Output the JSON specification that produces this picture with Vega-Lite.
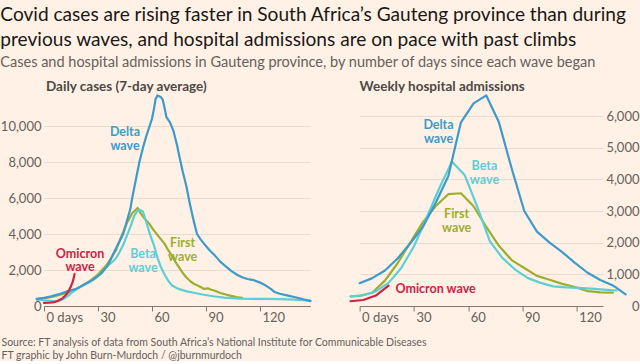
{
  "$schema": "https://vega.github.io/schema/vega-lite/v6.json",
  "background": "#fff1e5",
  "padding": {"left": 0, "top": 5, "right": 2, "bottom": 0},
  "autosize": {"type": "pad"},
  "bounds": "flush",
  "spacing": 48.6,
  "config": {
    "view": {"stroke": null},
    "font": "Lato",
    "numberFormat": ",.0f",
    "mark": {"clip": false},
    "axis": {"labelFont": "Lato", "labelColor": "#66605c", "labelFontSize": 13, "titleFont": "Lato", "gridColor": "#eadbce", "domainColor": "#807973", "tickColor": "#807973"}
  },
  "title": {
    "text": ["Covid cases are rising faster in South Africa’s Gauteng province than during", "previous waves, and hospital admissions are on pace with past climbs"],
    "subtitle": "Cases and hospital admissions in Gauteng province, by number of days since each wave began",
    "anchor": "start",
    "frame": "bounds",
    "font": "Lato",
    "fontSize": 19.1,
    "fontWeight": "normal",
    "lineHeight": 25,
    "color": "#1a1817",
    "subtitleFont": "Lato",
    "subtitleFontSize": 14.5,
    "subtitleColor": "#66605c",
    "subtitlePadding": 6,
    "offset": 10
  },
  "datasets": {
    "cases": [
      {"wave": "First wave", "day": -4, "v": 380}, {"wave": "First wave", "day": 0, "v": 420}, {"wave": "First wave", "day": 5, "v": 520}, {"wave": "First wave", "day": 10, "v": 650}, {"wave": "First wave", "day": 15, "v": 800}, {"wave": "First wave", "day": 20, "v": 1050}, {"wave": "First wave", "day": 25, "v": 1350}, {"wave": "First wave", "day": 30, "v": 1750}, {"wave": "First wave", "day": 35, "v": 2300}, {"wave": "First wave", "day": 40, "v": 3100}, {"wave": "First wave", "day": 43, "v": 3870}, {"wave": "First wave", "day": 46, "v": 4600}, {"wave": "First wave", "day": 49, "v": 5150}, {"wave": "First wave", "day": 52, "v": 5450}, {"wave": "First wave", "day": 54, "v": 5100}, {"wave": "First wave", "day": 56, "v": 4850}, {"wave": "First wave", "day": 59, "v": 4500}, {"wave": "First wave", "day": 61, "v": 4200}, {"wave": "First wave", "day": 63, "v": 3950}, {"wave": "First wave", "day": 65, "v": 3700}, {"wave": "First wave", "day": 67, "v": 3450}, {"wave": "First wave", "day": 69, "v": 3100}, {"wave": "First wave", "day": 71, "v": 2800}, {"wave": "First wave", "day": 73, "v": 2450}, {"wave": "First wave", "day": 75, "v": 2150}, {"wave": "First wave", "day": 77, "v": 1850}, {"wave": "First wave", "day": 79, "v": 1600}, {"wave": "First wave", "day": 81, "v": 1400}, {"wave": "First wave", "day": 83, "v": 1250}, {"wave": "First wave", "day": 85, "v": 1150}, {"wave": "First wave", "day": 87, "v": 1050}, {"wave": "First wave", "day": 89, "v": 950}, {"wave": "First wave", "day": 91, "v": 980}, {"wave": "First wave", "day": 93, "v": 900}, {"wave": "First wave", "day": 95, "v": 850}, {"wave": "First wave", "day": 98, "v": 720}, {"wave": "First wave", "day": 101, "v": 640}, {"wave": "First wave", "day": 104, "v": 560}, {"wave": "First wave", "day": 107, "v": 500}, {"wave": "First wave", "day": 110, "v": 450},
      {"wave": "Beta wave", "day": -4, "v": 350}, {"wave": "Beta wave", "day": 0, "v": 320}, {"wave": "Beta wave", "day": 4, "v": 280}, {"wave": "Beta wave", "day": 8, "v": 260}, {"wave": "Beta wave", "day": 11, "v": 400}, {"wave": "Beta wave", "day": 13, "v": 540}, {"wave": "Beta wave", "day": 16, "v": 780}, {"wave": "Beta wave", "day": 19, "v": 1000}, {"wave": "Beta wave", "day": 22, "v": 1150}, {"wave": "Beta wave", "day": 25, "v": 1300}, {"wave": "Beta wave", "day": 28, "v": 1500}, {"wave": "Beta wave", "day": 30, "v": 1650}, {"wave": "Beta wave", "day": 33, "v": 1950}, {"wave": "Beta wave", "day": 35, "v": 2200}, {"wave": "Beta wave", "day": 38, "v": 2450}, {"wave": "Beta wave", "day": 40, "v": 2650}, {"wave": "Beta wave", "day": 42, "v": 3000}, {"wave": "Beta wave", "day": 44, "v": 3400}, {"wave": "Beta wave", "day": 46, "v": 3900}, {"wave": "Beta wave", "day": 48, "v": 4400}, {"wave": "Beta wave", "day": 50, "v": 4980}, {"wave": "Beta wave", "day": 52, "v": 5300}, {"wave": "Beta wave", "day": 53, "v": 5350}, {"wave": "Beta wave", "day": 55, "v": 5250}, {"wave": "Beta wave", "day": 57, "v": 4600}, {"wave": "Beta wave", "day": 59, "v": 3950}, {"wave": "Beta wave", "day": 61, "v": 3400}, {"wave": "Beta wave", "day": 63, "v": 2700}, {"wave": "Beta wave", "day": 65, "v": 2150}, {"wave": "Beta wave", "day": 67, "v": 1750}, {"wave": "Beta wave", "day": 69, "v": 1400}, {"wave": "Beta wave", "day": 71, "v": 1150}, {"wave": "Beta wave", "day": 74, "v": 980}, {"wave": "Beta wave", "day": 77, "v": 880}, {"wave": "Beta wave", "day": 80, "v": 800}, {"wave": "Beta wave", "day": 84, "v": 720}, {"wave": "Beta wave", "day": 88, "v": 640}, {"wave": "Beta wave", "day": 94, "v": 540}, {"wave": "Beta wave", "day": 100, "v": 470}, {"wave": "Beta wave", "day": 109, "v": 410}, {"wave": "Beta wave", "day": 117, "v": 400}, {"wave": "Beta wave", "day": 124, "v": 400}, {"wave": "Beta wave", "day": 131, "v": 380}, {"wave": "Beta wave", "day": 139, "v": 350}, {"wave": "Beta wave", "day": 148, "v": 300},
      {"wave": "Delta wave", "day": -4, "v": 400}, {"wave": "Delta wave", "day": 0, "v": 450}, {"wave": "Delta wave", "day": 4, "v": 540}, {"wave": "Delta wave", "day": 9, "v": 680}, {"wave": "Delta wave", "day": 13, "v": 820}, {"wave": "Delta wave", "day": 18, "v": 950}, {"wave": "Delta wave", "day": 22, "v": 1180}, {"wave": "Delta wave", "day": 27, "v": 1450}, {"wave": "Delta wave", "day": 32, "v": 1830}, {"wave": "Delta wave", "day": 35, "v": 2200}, {"wave": "Delta wave", "day": 37, "v": 2570}, {"wave": "Delta wave", "day": 39, "v": 3000}, {"wave": "Delta wave", "day": 41, "v": 3400}, {"wave": "Delta wave", "day": 44, "v": 4000}, {"wave": "Delta wave", "day": 46, "v": 4700}, {"wave": "Delta wave", "day": 48, "v": 5400}, {"wave": "Delta wave", "day": 49, "v": 6000}, {"wave": "Delta wave", "day": 51, "v": 7000}, {"wave": "Delta wave", "day": 53, "v": 8000}, {"wave": "Delta wave", "day": 55, "v": 8800}, {"wave": "Delta wave", "day": 57, "v": 9500}, {"wave": "Delta wave", "day": 59, "v": 10100}, {"wave": "Delta wave", "day": 60, "v": 10400}, {"wave": "Delta wave", "day": 61, "v": 10900}, {"wave": "Delta wave", "day": 62, "v": 11500}, {"wave": "Delta wave", "day": 63, "v": 11700}, {"wave": "Delta wave", "day": 64, "v": 11650}, {"wave": "Delta wave", "day": 65, "v": 11600}, {"wave": "Delta wave", "day": 66, "v": 11450}, {"wave": "Delta wave", "day": 67, "v": 11000}, {"wave": "Delta wave", "day": 68, "v": 10500}, {"wave": "Delta wave", "day": 70, "v": 10200}, {"wave": "Delta wave", "day": 72, "v": 9700}, {"wave": "Delta wave", "day": 74, "v": 8900}, {"wave": "Delta wave", "day": 75, "v": 8400}, {"wave": "Delta wave", "day": 77, "v": 7500}, {"wave": "Delta wave", "day": 79, "v": 6700}, {"wave": "Delta wave", "day": 81, "v": 5700}, {"wave": "Delta wave", "day": 83, "v": 4800}, {"wave": "Delta wave", "day": 85, "v": 4000}, {"wave": "Delta wave", "day": 87, "v": 3700}, {"wave": "Delta wave", "day": 89, "v": 3450}, {"wave": "Delta wave", "day": 92, "v": 3100}, {"wave": "Delta wave", "day": 95, "v": 2800}, {"wave": "Delta wave", "day": 98, "v": 2450}, {"wave": "Delta wave", "day": 101, "v": 2200}, {"wave": "Delta wave", "day": 104, "v": 1950}, {"wave": "Delta wave", "day": 107, "v": 1750}, {"wave": "Delta wave", "day": 110, "v": 1600}, {"wave": "Delta wave", "day": 113, "v": 1500}, {"wave": "Delta wave", "day": 117, "v": 1420}, {"wave": "Delta wave", "day": 120, "v": 1300}, {"wave": "Delta wave", "day": 123, "v": 1150}, {"wave": "Delta wave", "day": 126, "v": 950}, {"wave": "Delta wave", "day": 128, "v": 780}, {"wave": "Delta wave", "day": 131, "v": 680}, {"wave": "Delta wave", "day": 135, "v": 590}, {"wave": "Delta wave", "day": 139, "v": 500}, {"wave": "Delta wave", "day": 143, "v": 400}, {"wave": "Delta wave", "day": 148, "v": 270},
      {"wave": "Omicron wave", "day": 0, "v": 170}, {"wave": "Omicron wave", "day": 3, "v": 180}, {"wave": "Omicron wave", "day": 6, "v": 220}, {"wave": "Omicron wave", "day": 8, "v": 300}, {"wave": "Omicron wave", "day": 10, "v": 400}, {"wave": "Omicron wave", "day": 12, "v": 600}, {"wave": "Omicron wave", "day": 13, "v": 720}, {"wave": "Omicron wave", "day": 14, "v": 900}, {"wave": "Omicron wave", "day": 15, "v": 1100}, {"wave": "Omicron wave", "day": 16, "v": 1350}, {"wave": "Omicron wave", "day": 17, "v": 1780}
    ],
    "adm": [
      {"wave": "First wave", "day": -5, "v": 300}, {"wave": "First wave", "day": 0, "v": 320}, {"wave": "First wave", "day": 7, "v": 420}, {"wave": "First wave", "day": 14, "v": 800}, {"wave": "First wave", "day": 21, "v": 1350}, {"wave": "First wave", "day": 28, "v": 2000}, {"wave": "First wave", "day": 35, "v": 2650}, {"wave": "First wave", "day": 42, "v": 3150}, {"wave": "First wave", "day": 49, "v": 3530}, {"wave": "First wave", "day": 56, "v": 3560}, {"wave": "First wave", "day": 63, "v": 3150}, {"wave": "First wave", "day": 70, "v": 2500}, {"wave": "First wave", "day": 77, "v": 1900}, {"wave": "First wave", "day": 84, "v": 1450}, {"wave": "First wave", "day": 91, "v": 1200}, {"wave": "First wave", "day": 98, "v": 950}, {"wave": "First wave", "day": 105, "v": 830}, {"wave": "First wave", "day": 112, "v": 700}, {"wave": "First wave", "day": 119, "v": 600}, {"wave": "First wave", "day": 126, "v": 470}, {"wave": "First wave", "day": 133, "v": 430}, {"wave": "First wave", "day": 140, "v": 420},
      {"wave": "Beta wave", "day": -5, "v": 305}, {"wave": "Beta wave", "day": 2, "v": 340}, {"wave": "Beta wave", "day": 9, "v": 460}, {"wave": "Beta wave", "day": 16, "v": 730}, {"wave": "Beta wave", "day": 23, "v": 1200}, {"wave": "Beta wave", "day": 30, "v": 1880}, {"wave": "Beta wave", "day": 37, "v": 2780}, {"wave": "Beta wave", "day": 44, "v": 3720}, {"wave": "Beta wave", "day": 51, "v": 4560}, {"wave": "Beta wave", "day": 58, "v": 4140}, {"wave": "Beta wave", "day": 65, "v": 3140}, {"wave": "Beta wave", "day": 72, "v": 2040}, {"wave": "Beta wave", "day": 79, "v": 1510}, {"wave": "Beta wave", "day": 86, "v": 1150}, {"wave": "Beta wave", "day": 93, "v": 880}, {"wave": "Beta wave", "day": 100, "v": 730}, {"wave": "Beta wave", "day": 107, "v": 620}, {"wave": "Beta wave", "day": 114, "v": 590}, {"wave": "Beta wave", "day": 121, "v": 570}, {"wave": "Beta wave", "day": 128, "v": 550}, {"wave": "Beta wave", "day": 135, "v": 520}, {"wave": "Beta wave", "day": 142, "v": 490},
      {"wave": "Delta wave", "day": 0, "v": 720}, {"wave": "Delta wave", "day": 7, "v": 880}, {"wave": "Delta wave", "day": 14, "v": 1120}, {"wave": "Delta wave", "day": 21, "v": 1500}, {"wave": "Delta wave", "day": 28, "v": 1980}, {"wave": "Delta wave", "day": 35, "v": 2500}, {"wave": "Delta wave", "day": 42, "v": 3250}, {"wave": "Delta wave", "day": 49, "v": 4100}, {"wave": "Delta wave", "day": 56, "v": 5800}, {"wave": "Delta wave", "day": 63, "v": 6400}, {"wave": "Delta wave", "day": 70, "v": 6650}, {"wave": "Delta wave", "day": 77, "v": 5800}, {"wave": "Delta wave", "day": 84, "v": 4350}, {"wave": "Delta wave", "day": 91, "v": 3000}, {"wave": "Delta wave", "day": 98, "v": 2350}, {"wave": "Delta wave", "day": 105, "v": 2000}, {"wave": "Delta wave", "day": 112, "v": 1700}, {"wave": "Delta wave", "day": 119, "v": 1360}, {"wave": "Delta wave", "day": 126, "v": 1050}, {"wave": "Delta wave", "day": 133, "v": 820}, {"wave": "Delta wave", "day": 140, "v": 650}, {"wave": "Delta wave", "day": 147, "v": 370},
      {"wave": "Omicron wave", "day": -5, "v": 150}, {"wave": "Omicron wave", "day": 2, "v": 190}, {"wave": "Omicron wave", "day": 9, "v": 330}, {"wave": "Omicron wave", "day": 16, "v": 640}
    ],
    "caseLabels": [
      {"wave": "Delta wave", "label": "Delta\nwave", "day": 45, "v": 9667},
      {"wave": "Omicron wave", "label": "Omicron\nwave", "day": 20, "v": 2900},
      {"wave": "Beta wave", "label": "Beta\nwave", "day": 55, "v": 2889},
      {"wave": "First wave", "label": "First\nwave", "day": 77, "v": 3500}
    ],
    "admLabels": [
      {"wave": "Delta wave", "label": "Delta\nwave", "day": 43.6, "v": 5710},
      {"wave": "Beta wave", "label": "Beta\nwave", "day": 69, "v": 4416},
      {"wave": "First wave", "label": "First\nwave", "day": 53.6, "v": 2900},
      {"wave": "Omicron wave", "label": "Omicron wave", "day": 42, "v": 536}
    ]
  },
  "hconcat": [
    {
      "width": 266.4,
      "height": 212,
      "title": {"text": "Daily cases (7-day average)", "anchor": "start", "frame": "group", "dx": 2, "font": "Lato", "fontSize": 13.5, "fontWeight": "bold", "color": "#4d4845", "offset": 1},
      "layer": [
        {
          "data": {"name": "cases"},
          "mark": {"type": "line", "strokeJoin": "round", "strokeCap": "round"},
          "encoding": {
            "x": {"field": "day", "type": "quantitative", "scale": {"domain": [0, 148], "nice": false, "zero": false},
              "axis": {"title": ["Source: FT analysis of data from South Africa’s National Institute for Communicable Diseases", "FT graphic by John Burn-Murdoch / @jburnmurdoch"],
                "titleX": -43, "titleY": 39, "titleAlign": "left", "titleAnchor": "start", "titleBaseline": "alphabetic", "titleFontSize": 10.5, "titleFontWeight": "normal", "titleColor": "#66605c", "titleLineHeight": 13,
                "domain": true, "grid": false, "ticks": true, "tickSize": 5, "values": [0, 30, 60, 90, 120], "format": "d", "labelAlign": "left", "labelBaseline": "top", "labelPadding": 0, "labelOffset": 2,
                "labelExpr": "datum.value == 0 ? '0 days' : datum.label"}},
            "y": {"field": "v", "type": "quantitative", "scale": {"domain": [0, 11780], "nice": false, "zero": true},
              "axis": {"orient": "left", "title": null, "domain": false, "ticks": false, "tickSize": 0, "grid": true, "values": [0, 2000, 4000, 6000, 8000, 10000], "format": ",.0f", "labelPadding": 3}},
            "color": {"field": "wave", "type": "nominal", "legend": null, "scale": {"domain": ["First wave", "Beta wave", "Delta wave", "Omicron wave"], "range": ["#9dae2f", "#5ccfd6", "#3d9acb", "#cc2247"]}},
            "strokeWidth": {"field": "wave", "type": "nominal", "legend": null, "scale": {"domain": ["First wave", "Beta wave", "Delta wave", "Omicron wave"], "range": [2.2, 2.2, 2.4, 3]}}
          }
        },
        {
          "data": {"name": "caseLabels"},
          "mark": {"type": "text", "font": "Lato", "fontSize": 12.5, "fontWeight": "bold", "lineBreak": "\n", "lineHeight": 13.5, "align": "center", "baseline": "middle"},
          "encoding": {
            "x": {"field": "day", "type": "quantitative",
              "axis": {"title": ["Source: FT analysis of data from South Africa’s National Institute for Communicable Diseases", "FT graphic by John Burn-Murdoch / @jburnmurdoch"],
                "titleX": -43, "titleY": 39, "titleAlign": "left", "titleAnchor": "start", "titleBaseline": "alphabetic", "titleFontSize": 10.5, "titleFontWeight": "normal", "titleColor": "#66605c", "titleLineHeight": 13,
                "domain": true, "grid": false, "ticks": true, "tickSize": 5, "values": [0, 30, 60, 90, 120], "format": "d", "labelAlign": "left", "labelBaseline": "top", "labelPadding": 0, "labelOffset": 2,
                "labelExpr": "datum.value == 0 ? '0 days' : datum.label"}},
            "y": {"field": "v", "type": "quantitative",
              "axis": {"orient": "left", "title": null, "domain": false, "ticks": false, "tickSize": 0, "grid": true, "values": [0, 2000, 4000, 6000, 8000, 10000], "format": ",.0f", "labelPadding": 3}},
            "text": {"field": "label"},
            "color": {"field": "wave", "type": "nominal", "legend": null}
          }
        }
      ]
    },
    {
      "width": 243.4,
      "height": 212,
      "title": {"text": "Weekly hospital admissions", "anchor": "start", "frame": "group", "dx": 0, "font": "Lato", "fontSize": 13.5, "fontWeight": "bold", "color": "#4d4845", "offset": 1},
      "layer": [
        {
          "data": {"name": "adm"},
          "mark": {"type": "line", "strokeJoin": "round", "strokeCap": "round"},
          "encoding": {
            "x": {"field": "day", "type": "quantitative", "scale": {"domain": [0, 134.5], "nice": false, "zero": false},
              "axis": {"title": null, "domain": true, "grid": false, "ticks": true, "tickSize": 5, "values": [0, 30, 60, 90, 120], "format": "d", "labelAlign": "left", "labelBaseline": "top", "labelPadding": 0, "labelOffset": 2,
                "labelExpr": "datum.value == 0 ? '0 days' : datum.label"}},
            "y": {"field": "v", "type": "quantitative", "scale": {"domain": [0, 6695], "nice": false, "zero": true},
              "axis": {"orient": "right", "title": null, "domain": false, "ticks": false, "tickSize": 0, "grid": true, "values": [0, 1000, 2000, 3000, 4000, 5000, 6000], "format": ",.0f", "labelAlign": "right", "labelPadding": 36}},
            "color": {"field": "wave", "type": "nominal", "legend": null, "scale": {"domain": ["First wave", "Beta wave", "Delta wave", "Omicron wave"], "range": ["#9dae2f", "#5ccfd6", "#3d9acb", "#cc2247"]}},
            "strokeWidth": {"field": "wave", "type": "nominal", "legend": null, "scale": {"domain": ["First wave", "Beta wave", "Delta wave", "Omicron wave"], "range": [2.2, 2.2, 2.4, 3]}}
          }
        },
        {
          "data": {"name": "admLabels"},
          "mark": {"type": "text", "font": "Lato", "fontSize": 12.5, "fontWeight": "bold", "lineBreak": "\n", "lineHeight": 13.5, "align": "center", "baseline": "middle"},
          "encoding": {
            "x": {"field": "day", "type": "quantitative",
              "axis": {"title": null, "domain": true, "grid": false, "ticks": true, "tickSize": 5, "values": [0, 30, 60, 90, 120], "format": "d", "labelAlign": "left", "labelBaseline": "top", "labelPadding": 0, "labelOffset": 2,
                "labelExpr": "datum.value == 0 ? '0 days' : datum.label"}},
            "y": {"field": "v", "type": "quantitative",
              "axis": {"orient": "right", "title": null, "domain": false, "ticks": false, "tickSize": 0, "grid": true, "values": [0, 1000, 2000, 3000, 4000, 5000, 6000], "format": ",.0f", "labelAlign": "right", "labelPadding": 36}},
            "text": {"field": "label"},
            "color": {"field": "wave", "type": "nominal", "legend": null}
          }
        }
      ]
    }
  ]
}
